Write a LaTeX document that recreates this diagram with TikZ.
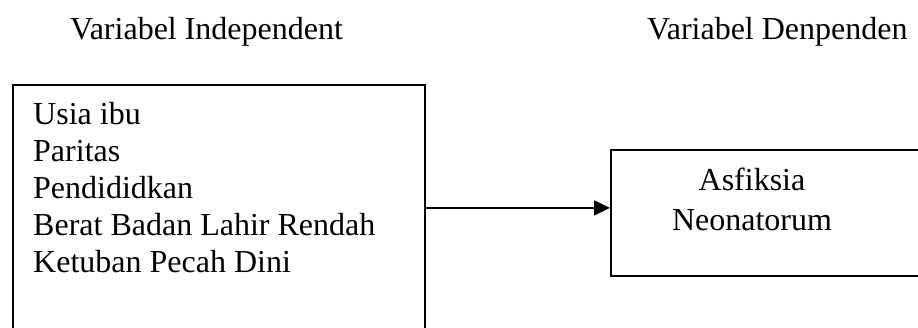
\documentclass[tikz,border=0pt]{standalone}
\usepackage{fontspec}
\setmainfont{Liberation Serif}
\usetikzlibrary{arrows.meta}
\begin{document}
\begin{tikzpicture}[x=1pt,y=-1pt,
  every node/.style={font=\fontsize{32}{37.5}\selectfont, inner sep=0pt},
  box/.style={draw, line width=1.8pt, anchor=north west},
  txt/.style={anchor=base west, align=left},
  conn/.style={line width=1.8pt, -{Triangle[length=16pt,width=15pt]}}]
\useasboundingbox (0,0) rectangle (918,327);
\node[txt] (t1) at (70,39) {Variabel Independent};
\node[txt] (t2) at (647,39) {Variabel Denpenden};
\node[box, minimum width=412pt, minimum height=246pt] (lbox) at (12,84) {};
\node[box, minimum width=330pt, minimum height=126pt] (rbox) at (610,149) {};
\node[txt] (l1) at (33,124) {Usia ibu};
\node[txt] (l2) at (33,161) {Paritas};
\node[txt] (l3) at (33,198) {Pendididkan};
\node[txt] (l4) at (33,235.5) {Berat Badan Lahir Rendah};
\node[txt] (l5) at (33,272) {Ketuban Pecah Dini};
\node[anchor=base] (r1) at (752,190) {Asfiksia};
\node[anchor=base] (r2) at (752,230) {Neonatorum};
\draw[conn] (lbox.east) -- (rbox.west |- lbox.east);
\end{tikzpicture}
\end{document}
